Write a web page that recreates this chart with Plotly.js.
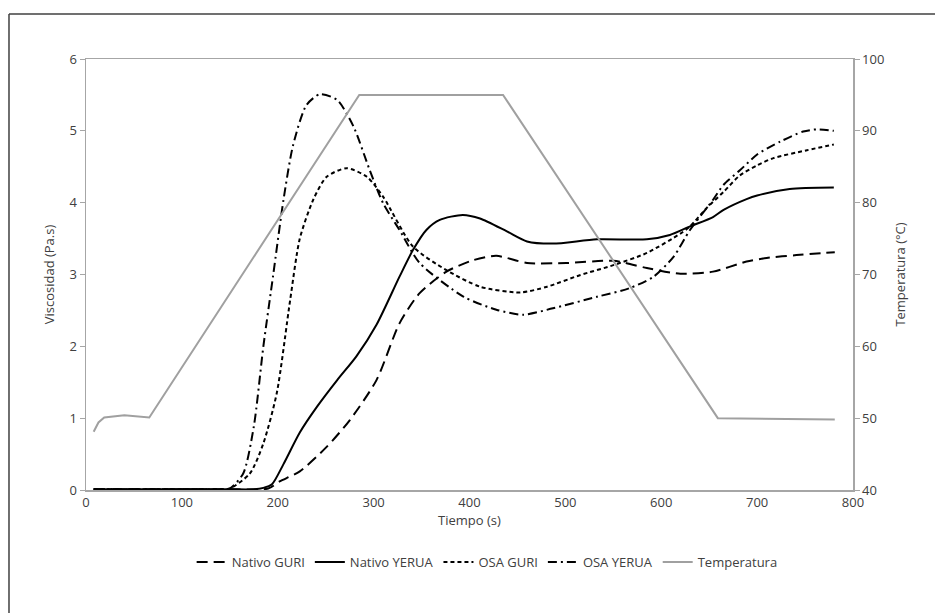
<!DOCTYPE html>
<html>
<head>
<meta charset="utf-8">
<script src="https://cdn.plot.ly/plotly-3.0.1.min.js"></script>
<style>html,body{margin:0;padding:0;background:#fff}#chart{width:935px;height:613px}</style>
</head>
<body>
<div id="chart"></div>
<script>
// Nativo GURI
const guriNatX = [8, 50, 100, 150, 190, 202, 223, 251, 275, 303, 327, 348, 376, 404, 428, 460, 501, 550, 585, 620, 654, 689, 710, 741, 781];
const guriNatY = [0.01, 0.01, 0.01, 0.01, 0.02, 0.12, 0.26, 0.6, 0.97, 1.53, 2.32, 2.74, 3.04, 3.2, 3.26, 3.16, 3.16, 3.19, 3.09, 3.01, 3.04, 3.18, 3.23, 3.27, 3.31];
// Nativo YERUA
const yerNatX = [8, 50, 100, 150, 175, 185, 194, 206, 223, 241, 262, 282, 303, 327, 341, 355, 369, 393, 411, 439, 460, 487, 533, 585, 609, 630, 654, 665, 689, 700, 734, 780];
const yerNatY = [0.01, 0.01, 0.01, 0.01, 0.01, 0.03, 0.08, 0.36, 0.8, 1.16, 1.53, 1.86, 2.3, 2.97, 3.34, 3.62, 3.76, 3.83, 3.78, 3.6, 3.46, 3.43, 3.49, 3.49, 3.55, 3.67, 3.8, 3.9, 4.05, 4.1, 4.19, 4.21];
// OSA GURI
const guriOsaX = [8, 50, 100, 140, 150, 171, 185, 199, 213, 223, 237, 251, 272, 293, 310, 341, 376, 411, 453, 481, 515, 550, 585, 620, 630, 647, 665, 682, 700, 717, 752, 780];
const guriOsaY = [0.01, 0.01, 0.01, 0.01, 0.02, 0.23, 0.65, 1.35, 2.65, 3.5, 4.04, 4.36, 4.48, 4.36, 4.08, 3.39, 3.06, 2.83, 2.75, 2.83, 2.99, 3.13, 3.3, 3.57, 3.67, 3.92, 4.15, 4.38, 4.52, 4.62, 4.73, 4.81];
// OSA YERUA
const yerOsaX = [8, 50, 100, 140, 150, 164, 175, 185, 195, 206, 216, 230, 244, 262, 279, 296, 310, 327, 348, 394, 428, 456, 487, 533, 567, 592, 613, 630, 654, 665, 682, 700, 724, 748, 762, 780];
const yerOsaY = [0.01, 0.01, 0.01, 0.01, 0.02, 0.23, 0.88, 2.0, 2.97, 4.04, 4.8, 5.36, 5.51, 5.43, 5.06, 4.45, 3.99, 3.62, 3.16, 2.69, 2.51, 2.44, 2.53, 2.69, 2.81, 2.97, 3.25, 3.62, 4.04, 4.25, 4.45, 4.67, 4.85, 4.99, 5.02, 5.0];
// Temperatura
const tempX = [8, 13, 19, 40, 66, 285, 435, 659, 781];
const tempY = [48.1, 49.4, 50.1, 50.4, 50.1, 95, 95, 50, 49.8];

const names = ['Nativo GURI', 'Nativo YERUA', 'OSA GURI', 'OSA YERUA', 'Temperatura'];
const xTicks = [0, 100, 200, 300, 400, 500, 600, 700, 800];

const black = '#000000';
const sm = 0.7;
const traces = [
  {x: guriNatX, y: guriNatY, name: names[0], mode: 'lines', line: {color: black, width: 2, dash: '11px,6px', shape: 'spline', smoothing: sm}},
  {x: yerNatX, y: yerNatY, name: names[1], mode: 'lines', line: {color: black, width: 2, shape: 'spline', smoothing: sm}},
  {x: guriOsaX, y: guriOsaY, name: names[2], mode: 'lines', line: {color: black, width: 2, dash: '4px,3px', shape: 'spline', smoothing: sm}},
  {x: yerOsaX, y: yerOsaY, name: names[3], mode: 'lines', line: {color: black, width: 2, dash: '9px,4px,2px,4px', shape: 'spline', smoothing: sm}},
  {x: tempX, y: tempY, name: names[4], mode: 'lines', yaxis: 'y2', line: {color: '#a0a0a0', width: 2}}
];

const fnt = {family: 'Open Sans, Noto Sans, sans-serif', size: 13, color: '#404040'};
const axCol = '#a6a6a6';
const layout = {
  width: 935, height: 613,
  margin: {l: 86, r: 82, t: 59, b: 123},
  paper_bgcolor: '#ffffff', plot_bgcolor: '#ffffff',
  font: fnt,
  showlegend: true,
  legend: {orientation: 'h', x: 0.523, xanchor: 'center', y: -0.167, yanchor: 'middle', font: {family: fnt.family, size: 13, color: '#404040'}, itemwidth: 30, traceorder: 'normal'},
  xaxis: {
    range: [0, 800], tickvals: xTicks, ticktext: xTicks.map(String),
    showgrid: false, zeroline: false, showline: true, linecolor: axCol, linewidth: 1.5,
    mirror: true, ticks: '', tickfont: fnt,
    title: {text: 'Tiempo (s)', font: fnt, standoff: 6}
  },
  yaxis: {
    range: [0, 6], dtick: 1, showgrid: false, zeroline: false, showline: true, linecolor: axCol, linewidth: 1.5,
    ticks: 'outside', ticklen: 5, tickcolor: axCol, tickfont: fnt,
    title: {text: 'Viscosidad (Pa.s)', font: fnt, standoff: 12}
  },
  yaxis2: {
    range: [40, 100], dtick: 10, overlaying: 'y', side: 'right', showgrid: false, zeroline: false,
    showline: true, linecolor: axCol, linewidth: 1.5, ticks: 'outside', ticklen: 5, tickcolor: axCol, tickfont: fnt,
    title: {text: 'Temperatura (°C)', font: fnt, standoff: 12}
  },
  shapes: [
    {type: 'line', xref: 'paper', yref: 'paper', x0: -0.1004, x1: -0.1004, y0: 1.1044, y1: -0.3, line: {color: '#404040', width: 1.5}},
    {type: 'line', xref: 'paper', yref: 'paper', x0: -0.1004, x1: 1.11, y0: 1.1044, y1: 1.1044, line: {color: '#404040', width: 1.5}}
  ]
};

Plotly.newPlot('chart', traces, layout, {displayModeBar: false, staticPlot: true});
</script>
</body>
</html>
